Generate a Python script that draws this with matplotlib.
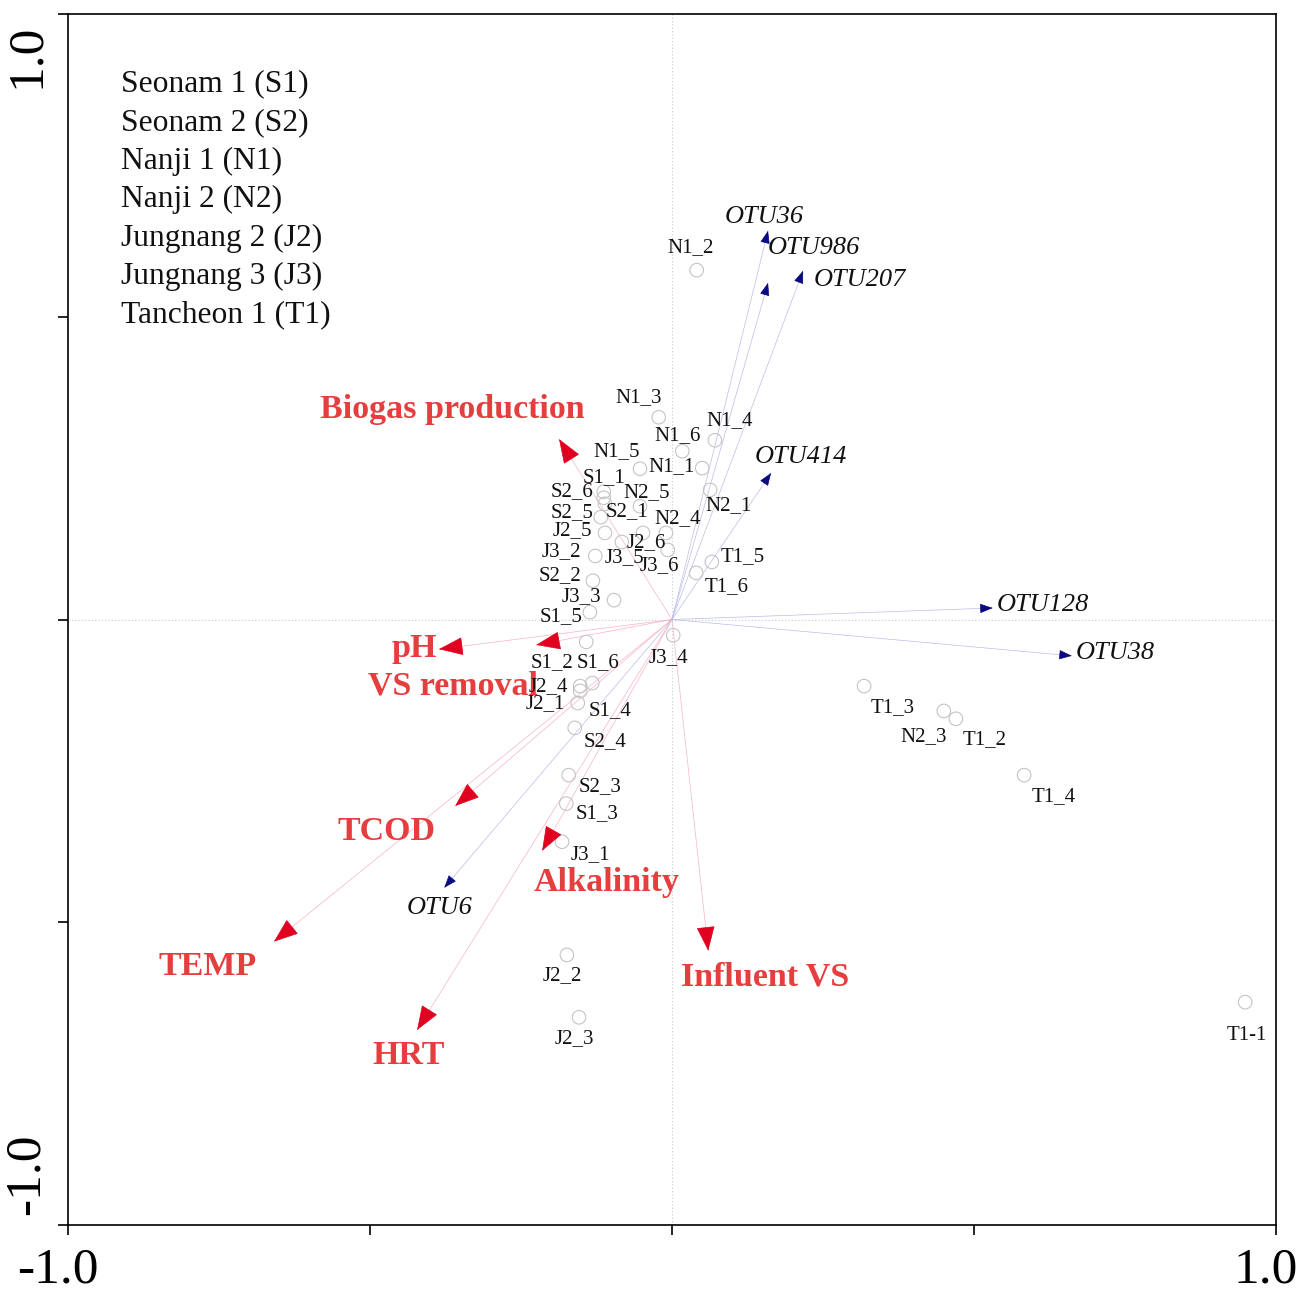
import numpy as np
import matplotlib.pyplot as plt
import matplotlib.transforms as mtransforms

# sample scores (site scores)
sample_names = [
    "N1_2", "N1_3", "N1_4", "N1_6", "N1_5", "N1_1",
    "S1_1", "S2_6", "S2_1", "N2_1", "N2_5", "S2_5",
    "J2_5", "J2_6", "N2_4", "J3_5", "J3_6", "J3_2",
    "T1_5", "T1_6", "S2_2", "J3_3", "S1_5", "J3_4",
    "S1_2", "S1_6", "J2_4", "S1_4", "J2_1", "S2_4",
    "S2_3", "S1_3", "J3_1", "J2_2", "J2_3",
    "T1_3", "N2_3", "T1_2", "T1_4", "T1-1",
]
sample_x = [
    0.041, -0.022, 0.071, 0.017, -0.053, 0.050,
    -0.113, -0.113, -0.111, 0.063, -0.053, -0.118,
    -0.111, -0.048, -0.010, -0.083, -0.007, -0.127,
    0.066, 0.040, -0.131, -0.096, -0.136, 0.002,
    -0.142, -0.132, -0.152, -0.152, -0.156, -0.161,
    -0.171, -0.175, -0.182, -0.174, -0.154,
    0.318, 0.450, 0.470, 0.583, 0.949,
]
sample_y = [
    0.577, 0.334, 0.296, 0.278, 0.249, 0.250,
    0.211, 0.201, 0.191, 0.214, 0.187, 0.169,
    0.143, 0.143, 0.143, 0.128, 0.115, 0.105,
    0.095, 0.077, 0.064, 0.032, 0.012, -0.026,
    -0.037, -0.105, -0.110, -0.118, -0.138, -0.179,
    -0.257, -0.304, -0.367, -0.554, -0.657,
    -0.110, -0.151, -0.164, -0.257, -0.632,
]

# environmental variables
env_names = ["Biogas production", "pH", "VS removal", "TCOD", "TEMP",
             "HRT", "Alkalinity", "Influent VS"]
env_x = [-0.187, -0.386, -0.225, -0.359, -0.659, -0.422, -0.215, 0.060]
env_y = [0.298, -0.049, -0.042, -0.308, -0.532, -0.678, -0.382, -0.547]

# species (OTUs)
otu_names = ["OTU36", "OTU986", "OTU207", "OTU414", "OTU128", "OTU38", "OTU6"]
otu_x = [0.159, 0.159, 0.217, 0.164, 0.531, 0.662, -0.377]
otu_y = [0.642, 0.556, 0.576, 0.242, 0.019, -0.060, -0.443]

legend_lines = ["Seonam 1 (S1)", "Seonam 2 (S2)", "Nanji 1 (N1)", "Nanji 2 (N2)",
                "Jungnang 2 (J2)", "Jungnang 3 (J3)", "Tancheon 1 (T1)"]

# label offsets in pixels (dx right, dy down as in the picture)
sample_off = {
    "N1_2": (-6, -23), "N1_3": (-20, -20), "N1_4": (15, -20), "N1_6": (-5, -16),
    "N1_5": (-23, -17), "N1_1": (-31, -2), "S1_1": (0, -14), "S2_6": (-32, -6),
    "S2_1": (22, 8), "N2_1": (19, 16), "N2_5": (7, -14), "S2_5": (-29, -5),
    "J2_5": (-33, -2), "J2_6": (3, 10), "N2_4": (12, -14), "J3_5": (3, 16),
    "J3_6": (-8, 16), "J3_2": (-34, -4), "T1_5": (31, -5), "T1_6": (30, 14),
    "S2_2": (-33, -5), "J3_3": (-33, -4), "S1_5": (-29, 4), "J3_4": (-5, 22),
    "S1_2": (-34, 21), "S1_6": (6, -20), "J2_4": (-32, 0), "S1_4": (30, 20),
    "J2_1": (-32, 1), "S2_4": (30, 14), "S2_3": (31, 11), "S1_3": (31, 10),
    "J3_1": (28, 13), "J2_2": (-5, 21), "J2_3": (-5, 21), "T1_3": (29, 21),
    "N2_3": (-20, 26), "T1_2": (29, 21), "T1_4": (30, 21), "T1-1": (2, 33),
}
env_off = {
    "Biogas production": (-107, -30), "pH": (-25, -1), "VS removal": (-83, 41),
    "TCOD": (-69, 26), "TEMP": (-66, 25), "HRT": (-9, 25),
    "Alkalinity": (64, 32), "Influent VS": (57, 26),
}
otu_off = {
    "OTU36": (-4, -14), "OTU986": (46, -35), "OTU207": (57, 9), "OTU414": (30, -16),
    "OTU128": (50, -3), "OTU38": (43, -3), "OTU6": (-5, 20),
}

plt.rcParams['font.family'] = ['Liberation Serif', 'DejaVu Serif']


def draw_vector(ax, x, y, line_color, head_color, head):
    ax.plot([0, x], [0, y], color=line_color, lw=0.5, zorder=2)
    d = np.hypot(x, y)
    ux, uy = x / d, y / d
    ax.annotate("", xy=(x, y), xytext=(x - 0.01 * ux, y - 0.01 * uy),
                arrowprops=dict(arrowstyle=head, color=head_color, lw=0.5,
                                shrinkA=0, shrinkB=0),
                zorder=4)


def main():
    fig = plt.figure(figsize=(13.01, 12.95), dpi=100)
    ax = fig.add_axes([68 / 1301, 70 / 1295, 1208 / 1301, 1211 / 1295])
    ax.set_xlim(-1, 1)
    ax.set_ylim(-1, 1)

    ax.axhline(0, color="#c8c8d4", lw=0.8, ls=(0, (1, 2)), zorder=1)
    ax.axvline(0, color="#c8c8d4", lw=0.8, ls=(0, (1, 2)), zorder=1)

    # environmental arrows
    for name, x, y in zip(env_names, env_x, env_y):
        draw_vector(ax, x, y, "#f7b4c4", "#e0001f", "-|>,head_length=1.6,head_width=0.6")
        dx, dy = env_off[name]
        ax.annotate(name, xy=(x, y), xytext=(dx, -dy), textcoords="offset pixels",
                    ha="center", va="center", fontsize=24.5, fontweight="bold",
                    color="#e63e3e", zorder=5)

    # species arrows
    for name, x, y in zip(otu_names, otu_x, otu_y):
        draw_vector(ax, x, y, "#bcbce8", "#0a0a80", "-|>,head_length=0.8,head_width=0.3")
        dx, dy = otu_off[name]
        ax.annotate(name, xy=(x, y), xytext=(dx, -dy), textcoords="offset pixels",
                    ha="center", va="center", fontsize=19, style="italic",
                    color="#111111", zorder=5)

    # samples
    ax.scatter(sample_x, sample_y, s=95, facecolors="none", edgecolors="#c4c4c4",
               linewidths=0.8, zorder=3)
    for name, x, y in zip(sample_names, sample_x, sample_y):
        dx, dy = sample_off[name]
        ax.annotate(name, xy=(x, y), xytext=(dx, -dy), textcoords="offset pixels",
                    ha="center", va="center", fontsize=15, color="#111111", zorder=5)

    # site legend text
    for i, line in enumerate(legend_lines):
        ax.text(53 / 1208, (1225 - 84 - 38.5 * i) / 1211, line, transform=ax.transAxes,
                ha="left", va="center", fontsize=22.7, color="#111111")

    ticks = [-1, -0.5, 0, 0.5, 1]
    ax.set_xticks(ticks)
    xlabs = ax.set_xticklabels(["-1.0", "", "", "", "1.0"], fontsize=37)
    ax.set_yticks(ticks)
    ylabs = ax.set_yticklabels(["-1.0", "", "", "", "1.0"], fontsize=37, rotation=90)
    ylabs[0].set_va("bottom")
    ylabs[-1].set_va("top")
    ax.tick_params(direction="out", length=7, width=1.2, pad=6)
    ax.tick_params(axis="x", pad=9)
    for s in ax.spines.values():
        s.set_linewidth(1.2)

    # nudge tick labels as in the original
    shift_x = mtransforms.ScaledTranslation(-10 / 100, 0, fig.dpi_scale_trans)
    for lab in xlabs:
        lab.set_transform(lab.get_transform() + shift_x)
    down = mtransforms.ScaledTranslation(0, -10 / 100, fig.dpi_scale_trans)
    up = mtransforms.ScaledTranslation(0, 10 / 100, fig.dpi_scale_trans)
    ylabs[-1].set_transform(ylabs[-1].get_transform() + down)
    ylabs[0].set_transform(ylabs[0].get_transform() + up)

    fig.savefig("out.png", dpi=100)


if __name__ == '__main__':
    main()
